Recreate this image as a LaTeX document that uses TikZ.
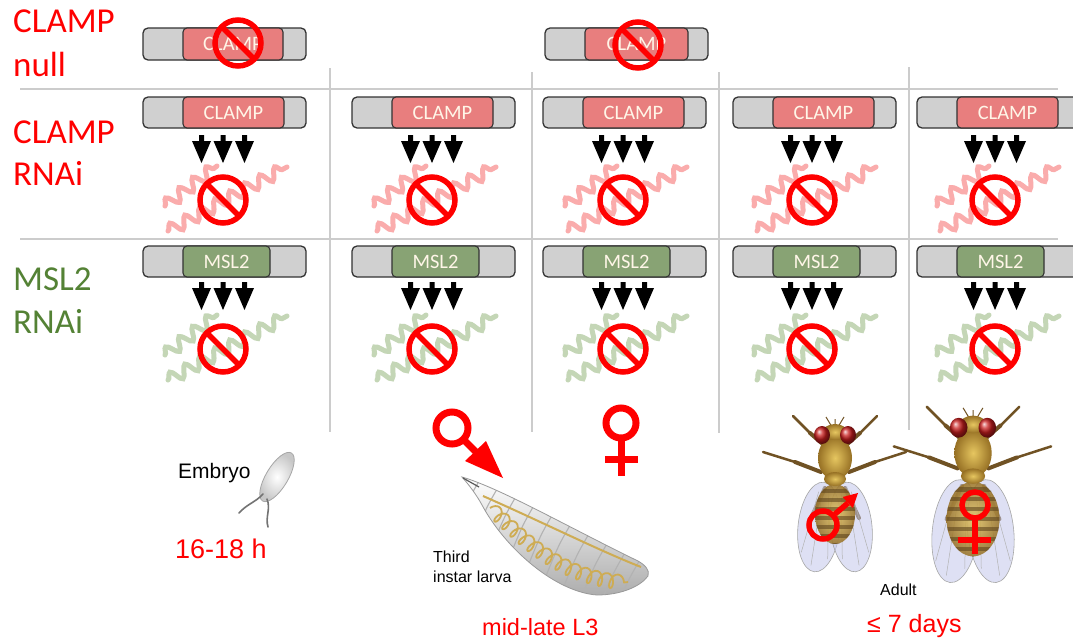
\documentclass[tikz,border=0pt]{standalone}
\usepackage{fontspec}
\setmainfont{Carlito}
\newfontfamily\arialfont{Liberation Sans}
\usetikzlibrary{calc,decorations.pathmorphing}

\definecolor{labred}{RGB}{255,0,0}
\definecolor{labgreen}{RGB}{84,130,53}
\definecolor{genegray}{RGB}{208,208,208}
\definecolor{clampfill}{RGB}{232,126,126}
\definecolor{mslfill}{RGB}{136,163,116}
\definecolor{boxtext}{RGB}{255,246,232}
\definecolor{rnapink}{RGB}{250,172,172}
\definecolor{rnagreen}{RGB}{196,214,182}
\definecolor{gridgray}{RGB}{204,204,204}
\definecolor{golddark}{RGB}{150,112,36}
\definecolor{goldlight}{RGB}{230,198,96}
\definecolor{stripe}{RGB}{95,70,30}
\definecolor{legbrown}{RGB}{112,82,36}
\definecolor{eyered}{RGB}{200,30,30}
\definecolor{wingblue}{RGB}{196,200,236}
\definecolor{gutyellow}{RGB}{206,172,84}

% gene: grey body with a coloured coding region
\newcommand\genebox[7]{% name, left, top, height, inner width, inner fill, label
  \node[outerbox, minimum height=#4pt, anchor=north west] (#1) at (#2,#3) {};
  \node[innerbox, minimum height=#4pt, fill=#6, minimum width=#5pt, anchor=north west] (#1-core) at ({#2+40},#3) {#7};
}
% three dsRNA arrows
\newcommand\knockdown[2]{%
  \foreach \dx in {-21.5,0,21.5}
    \fill[black] ({#1+\dx-2.5},#2) -- ({#1+\dx+2.5},#2) -- ({#1+\dx+2.5},{#2+6}) -- ({#1+\dx+9.5},{#2+6})
      -- ({#1+\dx},{#2+28}) -- ({#1+\dx-9.5},{#2+6}) -- ({#1+\dx-2.5},{#2+6}) -- cycle;
}
% prohibition sign
\newcommand\nosign[2]{%
  \draw[nosignline] (#1,#2) circle (23pt);
  \draw[nosignline] ($(#1,#2)+(135:23pt)$) -- ($(#1,#2)+(-45:23pt)$);
}
% wavy transcript
\newcommand\transcript[3]{%
  \draw[#1, rnaline] ({#2-55},{#3+31}) -- ({#2+64},{#3-33});
  \draw[#1, rnaline] ({#2-58},{#3+6}) -- ({#2-6},{#3-34});
}

\tikzset{
  outerbox/.style={draw=black!80, line width=1.3pt, fill=genegray, rounded corners=5pt,
    minimum width=163pt, inner sep=0pt, outer sep=0pt},
  innerbox/.style={draw=black!80, line width=1.1pt, rounded corners=4pt, inner sep=0pt,
    outer sep=0pt, text=boxtext, font=\fontsize{20.5}{24}\selectfont},
  nosignline/.style={draw=red, line width=5.5pt},
  rnaline/.style={line width=5pt, line cap=round, decorate,
    decoration={snake, segment length=17pt, amplitude=6pt}},
  gridline/.style={gridgray, line width=2pt},
  rowlabel/.style={font=\fontsize{35}{42}\selectfont, inner sep=0pt, anchor=base west},
  captext/.style={font=\arialfont\fontsize{16}{19}\selectfont, inner sep=0pt, anchor=base west},
  stagetext/.style={text=labred, inner sep=0pt, anchor=base west},
  sexline/.style={draw=red, line width=7pt},
  sexthin/.style={draw=red, line width=5.5pt},
  leg/.style={legbrown, line width=4pt, line cap=round},
  legtip/.style={legbrown, line width=2.5pt, line cap=round},
  pics/fly/.style n args={3}{code={
    % legs
    \draw[leg] (-10,-12) -- (-25,-25);
    \draw[legtip] (-25,-25) -- (-42,-42);
    \draw[leg] (10,-12) -- (25,-25);
    \draw[legtip] (25,-25) -- (42,-42);
    \draw[leg] (-14,14) -- (-40,4);
    \draw[legtip] (-40,4) -- (-72,-6);
    \draw[leg] (14,14) -- (40,4);
    \draw[legtip] (40,4) -- (71,-6);
    \draw[leg] (-10,30) -- (-24,60);
    \draw[leg] (10,30) -- (24,60);
    % wings
    \foreach \s in {-1,1} {
      \begin{scope}[shift={({\s*16},{24+#3})}, rotate={\s*6}]
        \filldraw[fill=wingblue, draw=black!35, line width=.6pt, fill opacity=.55]
          (0,0) ellipse [x radius=21pt, y radius=#3pt];
        \draw[black!30, line width=.5pt] (0,{-#3+4}) -- ({\s*4},{#3-6});
        \draw[black!30, line width=.5pt] ({-\s*6},{-#3+8}) -- ({-\s*12},{#3-14});
        \draw[black!30, line width=.5pt] ({\s*4},{-#3+10}) -- ({\s*15},{#3-18});
      \end{scope}
    }
    % abdomen, seen through the wings
    \shade[inner color=goldlight, outer color=golddark, opacity=.85] (0,{26+#2}) ellipse [x radius=#1pt, y radius=#2pt];
    \begin{scope}
      \clip (0,{26+#2}) ellipse [x radius=#1pt, y radius=#2pt];
      \foreach \k in {0,...,7}
        \fill[stripe, opacity=.6] (-30,{31+\k*9}) rectangle (30,{35+\k*9});
    \end{scope}
    % thorax, scutellum, head
    \shade[inner color=goldlight, outer color=golddark] (0,0) ellipse [x radius=17pt, y radius=22pt];
    \shade[inner color=goldlight, outer color=golddark] (0,21) ellipse [x radius=11pt, y radius=7pt];
    \draw[legbrown, line width=1pt] (-3,-31) -- (-9,-41) (3,-31) -- (9,-41) (0,-32) -- (0,-39);
    \shade[inner color=goldlight, outer color=golddark] (0,-26) ellipse [x radius=12pt, y radius=8pt];
    \shade[ball color=eyered] (-13,-23) ellipse [x radius=8pt, y radius=9pt];
    \shade[ball color=eyered] (13,-23) ellipse [x radius=8pt, y radius=9pt];
  }}
}

\begin{document}
\begin{tikzpicture}[x=1pt,y=-1pt]
\useasboundingbox (0,0) rectangle (1073,640);
\clip (0,0) rectangle (1073,640);
\fill[white] (0,0) rectangle (1073,640);

% table rules
\draw[gridline] (20,89) -- (1058,89);
\draw[gridline] (20,239) -- (1058,239);
\draw[gridline] (330,68) -- (330,432);
\draw[gridline] (532,72) -- (532,432);
\draw[gridline] (719,72) -- (719,433);
\draw[gridline] (909,67) -- (909,430);

% row labels
\node[rowlabel, text=labred] (nullA) at (13,32) {CLAMP};
\node[rowlabel, text=labred] (nullB) at (13,76) {null};
\node[rowlabel, text=labred] (rnaiA) at (13,143) {CLAMP};
\node[rowlabel, text=labred] (rnaiB) at (13,185) {RNAi};
\node[rowlabel, text=labgreen] (mslA) at (13,290) {MSL2};
\node[rowlabel, text=labgreen] (mslB) at (13,333) {RNAi};

% null mutant row
\genebox{null1}{143}{28}{32}{100}{clampfill}{CLAMP}
\nosign{238}{43}
\genebox{null3}{545}{28}{32}{103}{clampfill}{CLAMP}
\nosign{638}{45}

% RNAi rows
\foreach \i/\xl/\cx in {1/143/223, 2/352/432, 3/543/623, 4/733/812, 5/917/995} {
  \genebox{clamp\i}{\xl}{97}{31}{101}{clampfill}{CLAMP}
  \knockdown{\cx}{135}
  \transcript{rnapink}{\cx}{200}
  \nosign{\cx}{200}
  \genebox{msl\i}{\xl}{246}{31}{87}{mslfill}{MSL2}
  \knockdown{\cx}{282}
  \transcript{rnagreen}{\cx}{349}
  \nosign{\cx}{349}
}

% embryo
\begin{scope}[shift={(277,477)}, rotate=59]
  \shade[inner color=white, outer color=black!22] (0,0) ellipse [x radius=28pt, y radius=11pt];
  \draw[black!35, line width=.8pt] (0,0) ellipse [x radius=28pt, y radius=11pt];
\end{scope}
\draw[black!55, line width=1.6pt, line cap=round] (263,494) .. controls (256,502) and (247,504) .. (239,513);
\draw[black!55, line width=1.6pt, line cap=round] (267,499) .. controls (271,509) and (265,517) .. (268,527);
\node[captext, font=\arialfont\fontsize{21}{25}\selectfont] (embryo) at (178,478) {Embryo};
\node[stagetext, font=\arialfont\fontsize{27}{32}\selectfont] (embryotime) at (175,558) {16-18 h};

% third instar larva
\shade[top color=white, bottom color=black!32]
  (462,477) .. controls (500,488) and (570,528) .. (638,561)
  .. controls (645,565) and (650,570) .. (648,576)
  .. controls (640,587) and (620,595) .. (597,595)
  .. controls (555,592) and (505,548) .. (482,505)
  .. controls (476,494) and (469,485) .. (462,477) -- cycle;
\begin{scope}
  \clip (462,477) .. controls (500,488) and (570,528) .. (638,561)
    .. controls (645,565) and (650,570) .. (648,576)
    .. controls (640,587) and (620,595) .. (597,595)
    .. controls (555,592) and (505,548) .. (482,505)
    .. controls (476,494) and (469,485) .. (462,477) -- cycle;
  \foreach \tx/\ty in {482/480, 500/488, 518/497, 536/506, 554/516, 572/526, 590/536, 608/546, 626/555, 641/562}
    \draw[black!30, line width=1.1pt] (\tx,{\ty-4}) .. controls ({\tx-14},{\ty+20}) .. ({\tx-30},{\ty+60});
  \draw[gutyellow, line width=2pt] (483,496) .. controls (540,521) and (600,551) .. (641,567);
  \draw[gutyellow, line width=1.8pt, decorate, decoration={coil, aspect=0.6, segment length=11pt, amplitude=7pt}]
    (490,508) .. controls (520,535) and (560,580) .. (628,582);
\end{scope}
\draw[black!40, line width=.8pt]
  (462,477) .. controls (500,488) and (570,528) .. (638,561)
  .. controls (645,565) and (650,570) .. (648,576)
  .. controls (640,587) and (620,595) .. (597,595)
  .. controls (555,592) and (505,548) .. (482,505)
  .. controls (476,494) and (469,485) .. (462,477) -- cycle;
\draw[black!65, line width=1.2pt] (463,478) -- (479,487);
\node[captext] (larvaA) at (433,562) {Third};
\node[captext] (larvaB) at (433,582) {instar larva};
\node[stagetext, font=\arialfont\fontsize{23.5}{28}\selectfont] (larvatime) at (482,635) {mid-late L3};

% sex symbols for the larval stage
\draw[sexline] (452,428) circle (16pt);
\draw[sexline] (463,439) -- (477,453);
\fill[red] (503,478) -- (465,461) -- (486,441) -- cycle;
\draw[sexline] (621,423) circle (15pt);
\draw[sexline] (621,441) -- (621,476);
\draw[sexline] (605,459) -- (638,459);

% adult flies
\pic (male) at (835,458) {fly={20}{30}{45}};
\pic[scale=1.1] (female) at (973,453) {fly={24}{34}{47}};
\draw[sexthin] (823,525) circle (14pt);
\draw[sexthin] (835,514) -- (848,503);
\fill[red] (858,493) -- (852.8,508) -- (842.6,497) -- cycle;
\draw[sexthin] (975,505) circle (13pt);
\draw[sexthin] (975,520) -- (975,554);
\draw[sexthin] (958,540) -- (991,540);
\node[captext] (adult) at (880,595) {Adult};
\node[stagetext, font=\arialfont\fontsize{25}{30}\selectfont] (adulttime) at (867,632) {≤ 7 days};
\end{tikzpicture}
\end{document}
